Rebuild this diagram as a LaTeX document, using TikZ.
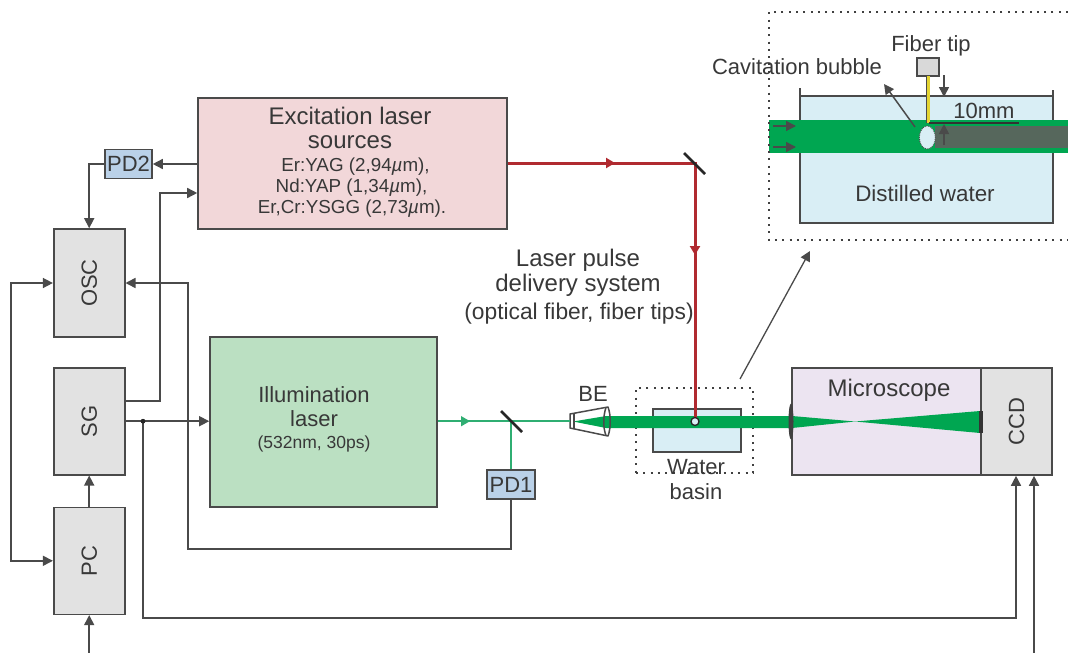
\documentclass[tikz,border=0pt]{standalone}
\usepackage{fontspec}
\setmainfont{Liberation Sans}
\usetikzlibrary{arrows.meta,shapes.geometric}
\definecolor{inkgray}{HTML}{4A4A4A}
\definecolor{beamgreen}{HTML}{00A651}
\definecolor{thingreen}{HTML}{2FAE72}
\definecolor{laserred}{HTML}{B02A30}
\definecolor{waterblue}{HTML}{D9EEF5}
\definecolor{pinkbox}{HTML}{F2D7D9}
\definecolor{greenbox}{HTML}{BBE0C2}
\definecolor{bluebox}{HTML}{BAD1E8}
\definecolor{violetbox}{HTML}{ECE4F1}
\definecolor{greybox}{HTML}{E2E2E2}
\definecolor{darkband}{HTML}{56675C}
\definecolor{fiberyellow}{HTML}{E3D433}
\tikzset{
  box/.style={draw=inkgray,line width=1.6pt,inner sep=0pt,text=black!78},
  unit/.style={box,fill=greybox,minimum width=71pt,font=\fontsize{22}{26}\selectfont},
  pdbox/.style={box,fill=bluebox,minimum height=29pt,font=\fontsize{22}{26}\selectfont},
  link/.style={draw=inkgray,line width=1.5pt},
  tip/.style={link,-{Triangle[length=10pt,width=10pt]}},
  txt/.style={text=black!78,inner sep=0pt},
  large/.style={txt,font=\fontsize{24}{26}\selectfont},
  medium/.style={txt,font=\fontsize{22}{26}\selectfont},
  little/.style={txt,font=\fontsize{18.8}{22}\selectfont},
  dots/.style={draw=black!75,line width=2pt,dash pattern=on 2pt off 5.3pt},
  thin beam/.style={draw=thingreen,line width=1.6pt},
  red beam/.style={draw=laserred,line width=3pt},
  mirror/.style={draw=black!85,line width=2.6pt}
}
\begin{document}
\begin{tikzpicture}[x=1pt,y=-1pt]
\useasboundingbox (0,0) rectangle (1068,653);
% blocks on the left
\node[box,fill=pinkbox,minimum width=309pt,minimum height=131pt] (exc) at (352.5,163.5) {};
\node[pdbox,minimum width=47pt] (pdtwo) at (128.5,164) {PD2};
\node[unit,minimum height=108pt] (osc) at (89.2,283) {\rotatebox{90}{OSC}};
\node[unit,minimum height=107pt] (sg) at (89.2,421.2) {\rotatebox{90}{SG}};
\node[unit,minimum height=107pt] (pc) at (89.2,560.8) {\rotatebox{90}{PC}};
\node[box,fill=greenbox,minimum width=227pt,minimum height=170pt] (illum) at (323.5,422) {};
\node[pdbox,minimum width=48pt] (pdone) at (511,484.5) {PD1};
% microscope and camera
\node[box,fill=violetbox,minimum width=189pt,minimum height=107pt] (micro) at (886.5,421.5) {};
\node[unit,minimum height=107pt] (ccd) at (1016.5,421.5) {\rotatebox{90}{CCD}};
\node[large] (microtxt) at (889,390) {Microscope};
% texts of the blocks
\node[large,align=center] (exctxt) at (350,128) {Excitation laser\\[-2.5pt]sources};
\node[little] (exca) at (355.5,167) {Er:YAG (2,94\textit{µ}m),};
\node[little] (excb) at (351.5,187.5) {Nd:YAP (1,34\textit{µ}m),};
\node[little] (excc) at (352,208.5) {Er,Cr:YSGG (2,73\textit{µ}m).};
\node[medium] (illa) at (314,395) {Illumination};
\node[medium] (illb) at (314,419) {laser};
\node[txt,font=\fontsize{17.5}{21}\selectfont] (illc) at (314,444) {(532nm, 30ps)};
\node[large] (dela) at (578,260.5) {Laser pulse};
\node[large] (delb) at (578,285) {delivery system};
\node[txt,font=\fontsize{22.8}{26}\selectfont] (delc) at (579,314) {(optical fiber, fiber tips)};
\node[medium] (betxt) at (593,394) {BE};
% water basin
\node[box,fill=waterblue,minimum width=88pt,minimum height=43pt] (basin) at (697,430.5) {};
\node[dots,minimum width=117pt,minimum height=85pt,inner sep=0pt] (zone) at (694.5,430.5) {};
\node[medium] (wata) at (696,467) {Water};
\node[medium] (watb) at (696,492) {basin};
% beam through the optics
\fill[beamgreen] (573,421.5) -- (606,416) -- (792,416) -- (855,421.5) -- (980,411) -- (980,433) -- (855,421.5) -- (792,428) -- (606,428) -- cycle;
\draw[link,line join=round] (570,414) -- (608,407) .. controls (611,415) and (611,428) .. (608,436) -- (570,428) -- cycle;
\draw[link] (574,414) -- (574,428);
\draw[link] (606,407.5) .. controls (603,416) and (603,428) .. (606,435.5);
\fill[black!75] (791,421.5) ellipse (2.5pt and 18pt);
\fill[black!80] (979,411) rectangle (983,433);
% excitation and illumination paths
\coordinate (mirone) at (511,421.2);
\coordinate (mirtwo) at (695,163);
\coordinate (focus) at (695,421.5);
\draw[thin beam] (illum.east |- mirone) -- (570,421.2);
\draw[thin beam,-{Triangle[length=9pt,width=10pt]}] (illum.east |- mirone) -- (470,421.2);
\draw[thin beam] (mirone) -- (pdone.north);
\draw[mirror] (501,411) -- (522,432);
\draw[red beam] (exc.east |- mirtwo) -- (mirtwo) -- (focus);
\draw[red beam,-{Triangle[length=9pt,width=10pt]}] (exc.east |- mirtwo) -- (615,163);
\draw[red beam,-{Triangle[length=9pt,width=10pt]}] (mirtwo) -- (695,255);
\draw[mirror] (684,153) -- (705,174);
\node[circle,draw=black!85,fill=waterblue,line width=1.3pt,minimum size=8pt,inner sep=0pt] (spot) at (focus) {};
% signal lines
\coordinate (pcin) at (89.2,653);
\coordinate (junction) at (143,421.2);
\coordinate (camin) at (1034,653);
\coordinate (busleft) at (11,560.8);
\draw[tip] (exc.west |- pdtwo) -- (pdtwo.east);
\draw[tip] (pdtwo.west) -| (osc.north);
\draw[tip] (sg.east |- 0,401) -| (160,193) -- (exc.west |- 0,193);
\draw[tip] (sg.east) -- (illum.west |- sg);
\draw[tip] (pc.north) -- (sg.south);
\draw[tip] (pcin) -- (pc.south);
\draw[tip] (pdone.south) |- (188,549) |- (osc.east);
\draw[link,{Triangle[length=10pt,width=10pt]}-{Triangle[length=10pt,width=10pt]}] (osc.west) -| (busleft) -- (pc.west);
\draw[tip] (junction) |- (1016,618) -- (ccd.south -| 1016,0);
\draw[tip] (camin) -- (ccd.south -| 1034,0);
\fill[black!85] (junction) circle (2.4pt);
\draw[tip,line width=1.3pt] (740,379) -- (810,251);
% inset with the cavitation bubble
\node[box,draw=none,fill=waterblue,minimum width=251pt,minimum height=125pt] (tank) at (926.5,159.5) {};
\draw[link] (tank.north west) ++(0,-8) -- (tank.south west) -- (tank.south east) -- ++(0,-133);
\draw[link] (tank.north west) -- (tank.north east);
\fill[beamgreen] (769,119.5) rectangle (1068,153);
\fill[darkband] (935,126) rectangle (1068,148);
\draw[dots] (1068,12) -- (769,12) -- (769,240) -- (1068,240);
\node[box,line width=1.3pt,fill=black!15,minimum width=22pt,minimum height=18pt] (fibertip) at (928,67) {};
\fill[fiberyellow] (926.5,76) rectangle (930,123);
\draw[inkgray,line width=.5pt] (926.3,76) -- (926.3,123);
\node[ellipse,fill=waterblue,draw=inkgray,densely dotted,line width=.9pt,minimum width=16pt,minimum height=23pt,inner sep=0pt] (bubble) at (927.3,137.5) {};
\coordinate (dimline) at (929,123);
\draw[tip] (944,75) -- (944,97);
\draw[tip] (944,145) -- (944,124);
\draw[black!80,line width=1.2pt] (dimline) -- (1019,123);
\draw[tip] (773,126) -- (796,126);
\draw[tip] (773,147) -- (796,147);
\draw[tip] (915,127) -- (884,84);
\node[medium] (fibertxt) at (931,46) {Fiber tip};
\node[medium] (bubtxt) at (797,67) {Cavitation bubble};
\node[medium] (dimtxt) at (984,111) {10mm};
\node[txt,font=\fontsize{22.4}{26}\selectfont] (tanktxt) at (925,193) {Distilled water};
\end{tikzpicture}
\end{document}
